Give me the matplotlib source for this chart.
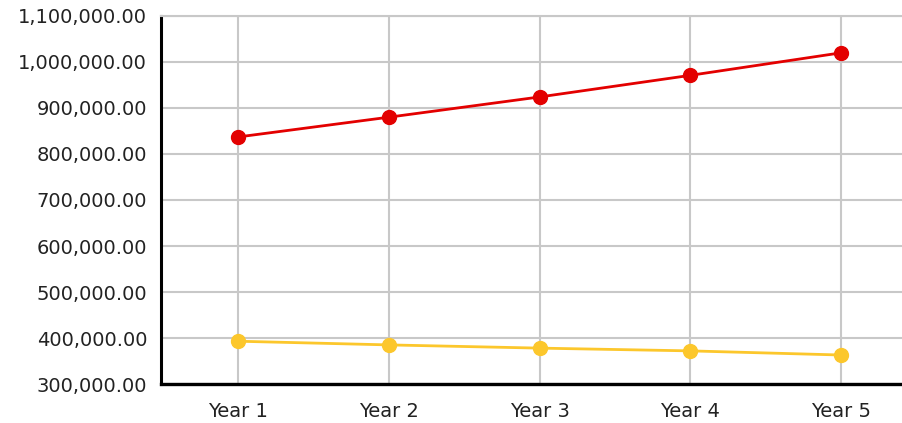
import matplotlib.pyplot as plt
from matplotlib.ticker import FuncFormatter, MultipleLocator

years = ["Year 1", "Year 2", "Year 3", "Year 4", "Year 5"]
series_red = [837000, 880000, 924000, 971000, 1020000]
series_yellow = [393000, 385000, 378000, 372000, 363000]

red = "#e30000"
yellow = "#fcc72c"
grid = "#c8c8c8"

fig = plt.figure(figsize=(9.03, 4.23), dpi=100)
ax = fig.add_axes([161 / 903, 1 - 384 / 423, 742 / 903, 368 / 423])

x = range(len(years))
ax.plot(x, series_red, color=red, lw=2.0, marker="o", ms=10, zorder=3,
        clip_on=False)
ax.plot(x, series_yellow, color=yellow, lw=2.0, marker="o", ms=10, zorder=3,
        clip_on=False)

ax.set_xlim(-0.51, 4.41)
ax.set_ylim(300000, 1100000)
ax.set_xticks(list(x))
ax.set_xticklabels(years)
ax.yaxis.set_major_locator(MultipleLocator(100000))
ax.yaxis.set_major_formatter(FuncFormatter(lambda v, p: f"{v:,.2f}"))

ax.grid(True, color=grid, lw=1.5, zorder=0)
ax.set_axisbelow(True)
ax.tick_params(length=0, labelsize=14, colors="#222222")
ax.tick_params(axis="y", pad=10)
ax.tick_params(axis="x", pad=13)

ax.spines["right"].set_visible(False)
ax.spines["top"].set_color(grid)
ax.spines["top"].set_linewidth(1.5)
ax.spines["left"].set_linewidth(2.2)
ax.spines["bottom"].set_linewidth(2.4)

fig.savefig("out.png", dpi=100)
